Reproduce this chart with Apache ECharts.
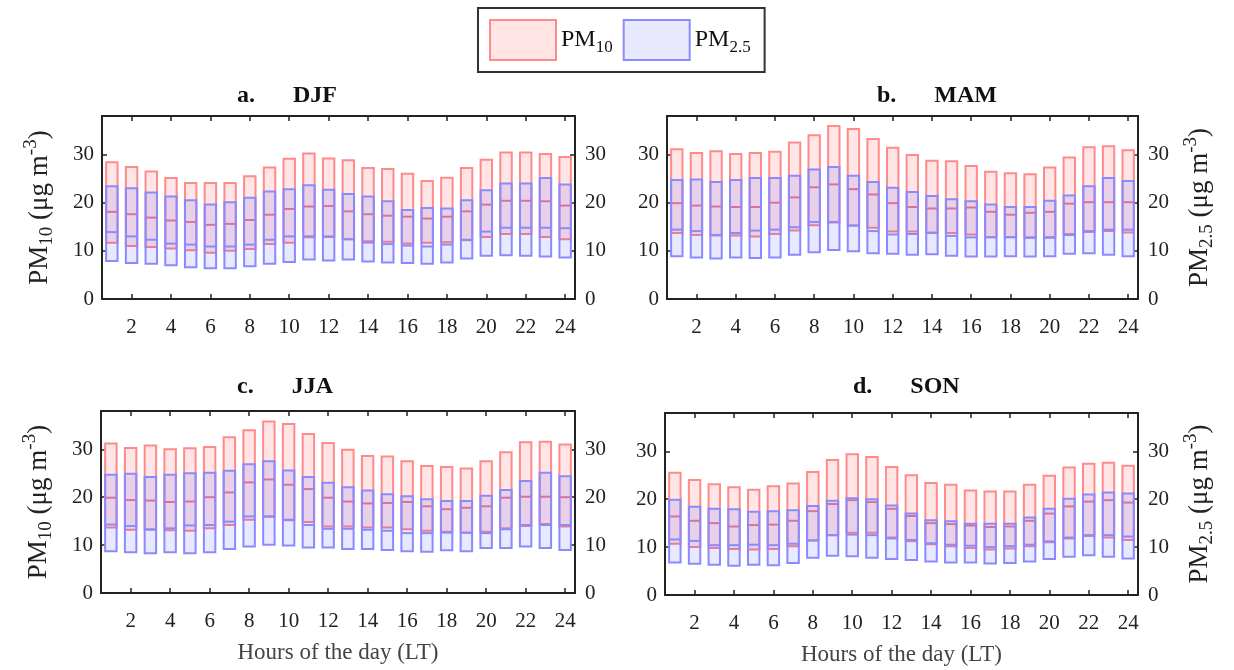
<!DOCTYPE html>
<html><head><meta charset="utf-8">
<script src="https://cdn.jsdelivr.net/npm/echarts@6/dist/echarts.min.js"></script>
<style>html,body{margin:0;padding:0;background:#fff}#c{width:1234px;height:670px}</style>
</head><body><div id="c"></div>
<script>
const hours = ['1','2','3','4','5','6','7','8','9','10','11','12','13','14','15','16','17','18','19','20','21','22','23','24'];
const yTicks = [0, 10, 20, 30];

// DJF
const djfPm10Q75 = [28.4,27.4,26.5,25.1,24.1,24.1,24.1,25.5,27.3,29.1,30.2,29.2,28.8,27.2,27.0,26.0,24.5,25.2,27.2,28.9,30.4,30.4,30.1,29.5];
const djfPm10Med = [18.1,17.6,16.9,16.3,16.0,15.4,15.6,16.4,17.5,18.7,19.2,19.3,18.2,17.6,17.3,17.1,16.7,17.1,18.2,19.6,20.4,20.4,20.3,19.4];
const djfPm10Q25 = [11.7,11.0,10.8,10.5,10.1,9.6,10.0,10.4,11.4,11.7,12.8,12.9,12.4,12.0,11.9,11.5,11.7,11.8,12.2,12.9,13.5,13.5,12.9,12.4];
const djfPm25Q75 = [23.4,23.0,22.1,21.3,20.5,19.6,20.1,21.0,22.3,22.8,23.6,22.7,21.8,21.3,20.3,18.5,18.9,18.8,20.5,22.6,24.0,24.0,25.1,23.8];
const djfPm25Med = [13.9,13.0,12.3,11.5,11.3,10.9,10.9,11.3,12.3,13.0,13.0,13.0,12.4,11.7,11.4,11.1,10.9,11.3,12.3,14.0,14.8,14.8,14.8,14.7];
const djfPm25Q25 = [7.9,7.5,7.3,7.0,6.6,6.4,6.4,6.8,7.3,7.7,8.2,8.0,8.2,7.8,7.6,7.5,7.3,7.6,8.4,9.0,9.1,9.0,8.8,8.6];

// MAM
const mamPm10Q75 = [31.1,30.3,30.7,30.1,30.3,30.6,32.5,34.0,35.9,35.3,33.2,31.4,29.9,28.7,28.6,27.6,26.4,26.1,25.9,27.3,29.4,31.5,31.7,30.9];
const mamPm10Med = [19.9,19.4,19.2,19.1,19.1,20.0,21.1,23.2,23.8,22.8,21.7,19.9,19.1,18.8,18.8,19.0,18.1,17.5,17.9,18.1,19.8,20.1,20.1,20.1];
const mamPm10Q25 = [13.7,13.3,13.2,13.2,13.0,13.5,14.2,15.3,15.9,15.2,14.8,14.0,14.0,13.7,13.7,13.4,12.9,12.9,12.8,12.9,13.5,13.9,14.1,13.8];
const mamPm25Q75 = [24.7,24.8,24.3,24.7,25.1,25.1,25.6,26.9,27.4,25.6,24.3,23.1,22.2,21.4,20.7,20.3,19.6,19.1,19.1,20.4,21.5,23.4,25.1,24.5];
const mamPm25Med = [14.4,14.1,13.3,13.7,14.2,14.4,14.9,16.0,16.0,15.3,14.1,13.4,13.5,13.8,13.1,12.8,12.8,12.8,12.7,12.7,13.3,14.1,14.4,14.4];
const mamPm25Q25 = [8.9,8.6,8.4,8.6,8.5,8.6,9.2,9.7,10.2,9.9,9.5,9.4,9.2,9.3,9.0,8.8,8.8,8.9,8.8,8.9,9.4,9.5,9.2,8.9];

// JJA
const jjaPm10Q75 = [31.2,30.3,30.8,30.0,30.2,30.5,32.5,34.0,35.8,35.3,33.2,31.3,29.9,28.6,28.5,27.5,26.5,26.3,26.0,27.5,29.4,31.5,31.6,31.0];
const jjaPm10Med = [19.9,19.4,19.3,19.0,19.1,20.0,21.0,23.1,23.7,22.6,21.7,19.9,19.1,18.7,18.8,19.0,18.1,17.5,17.8,18.1,19.9,20.1,20.1,20.0];
const jjaPm10Q25 = [13.7,13.2,13.2,13.1,13.0,13.5,14.2,15.3,15.9,15.2,14.8,13.9,13.9,13.7,13.7,13.3,13.0,12.8,12.6,12.8,13.5,14.0,14.4,13.9];
const jjaPm25Q75 = [24.7,24.9,24.2,24.7,25.0,25.1,25.5,26.9,27.5,25.6,24.2,23.0,22.1,21.4,20.6,20.2,19.6,19.2,19.2,20.3,21.5,23.4,25.1,24.4];
const jjaPm25Med = [14.3,14.0,13.3,13.5,14.1,14.2,14.9,16.0,16.0,15.3,14.2,13.4,13.4,13.2,13.0,12.5,12.5,12.6,12.6,12.5,13.3,14.2,14.2,14.2];
const jjaPm25Q25 = [8.7,8.5,8.3,8.5,8.3,8.5,9.2,9.7,10.1,9.9,9.5,9.5,9.2,9.2,9.0,8.7,8.6,8.9,8.7,9.4,9.4,9.7,9.4,9.0];

// SON
const sonPm10Q75 = [25.5,24.0,23.1,22.5,22.0,22.7,23.3,25.7,28.2,29.4,28.8,26.7,25.0,23.4,23.0,21.8,21.6,21.6,23.0,24.9,26.6,27.4,27.6,27.0];
const sonPm10Med = [16.4,15.5,15.0,14.3,14.6,14.7,15.5,17.5,19.0,19.8,19.4,18.0,16.5,15.0,14.8,14.5,14.2,14.3,15.5,17.0,18.5,19.5,19.8,19.3];
const sonPm10Q25 = [10.7,10.0,9.8,9.6,9.5,9.6,10.2,11.4,12.5,13.0,13.0,12.0,11.2,10.6,10.2,9.8,9.5,9.7,10.2,11.0,11.8,12.3,12.0,11.5];
const sonPm25Q75 = [19.9,18.4,18.0,17.9,17.4,17.5,17.7,18.6,19.7,20.2,20.0,18.7,17.0,15.6,15.4,14.9,14.9,14.9,16.2,18.0,20.1,21.0,21.4,21.2];
const sonPm25Med = [11.6,11.3,10.4,10.4,10.5,10.4,10.7,11.4,12.5,12.6,12.5,11.8,11.5,10.8,10.5,10.3,10.0,10.2,10.5,11.2,12.0,12.5,12.5,12.2];
const sonPm25Q25 = [6.8,6.5,6.3,6.1,6.3,6.2,6.7,7.8,8.2,8.1,7.8,7.5,7.3,7.0,6.8,6.8,6.6,6.7,7.0,7.5,8.0,8.3,8.0,7.6];

const FONT = '"Liberation Serif","Times New Roman",serif';
const AX = '#222';

const panels = [
  {label:'a.', season:'DJF', grid:{left:102, top:116, width:473, height:183}, titleLeft:232, titleTop:79, leftName:true, rightName:false, xName:false,
   p10:[djfPm10Q25, djfPm10Med, djfPm10Q75], p25:[djfPm25Q25, djfPm25Med, djfPm25Q75]},
  {label:'b.', season:'MAM', grid:{left:667, top:116, width:471, height:183}, titleLeft:872, titleTop:79, leftName:false, rightName:true, xName:false,
   p10:[mamPm10Q25, mamPm10Med, mamPm10Q75], p25:[mamPm25Q25, mamPm25Med, mamPm25Q75]},
  {label:'c.', season:'JJA', grid:{left:101, top:411, width:474, height:182}, titleLeft:232, titleTop:370, leftName:true, rightName:false, xName:true,
   p10:[jjaPm10Q25, jjaPm10Med, jjaPm10Q75], p25:[jjaPm25Q25, jjaPm25Med, jjaPm25Q75]},
  {label:'d.', season:'SON', grid:{left:665, top:413, width:473, height:182}, titleLeft:848, titleTop:370, leftName:false, rightName:true, xName:true,
   p10:[sonPm10Q25, sonPm10Med, sonPm10Q75], p25:[sonPm25Q25, sonPm25Med, sonPm25Q75]}
];

const evenIdx = (idx) => idx % 2 === 1;
const nameRich = {
  m:{fontSize:27, fontFamily:FONT, color:AX},
  s:{fontSize:19, fontFamily:FONT, color:AX, padding:[15,0,0,0]},
  p:{fontSize:19, fontFamily:FONT, color:AX, padding:[0,0,17,0]}
};

const grid = [], xAxis = [], yAxis = [], series = [], title = [];
const styles = {
  PM10:{fill:'rgba(255,0,0,0.1)', stroke:'#ff8a8a', med:'#ee7f8c'},
  'PM2.5':{fill:'rgba(0,0,255,0.09)', stroke:'#8a8aff', med:'#8a8aff'}
};
function makeRender(st){
  return function(params, api){
    const x = api.value(0);
    const lo = api.coord([x, api.value(1)]);
    const md = api.coord([x, api.value(2)]);
    const hi = api.coord([x, api.value(3)]);
    const w = api.size([1,0])[0]*0.58;
    return {type:'group', children:[
      {type:'rect', shape:{x:lo[0]-w/2, y:hi[1], width:w, height:lo[1]-hi[1]}, style:{fill:st.fill, stroke:st.stroke, lineWidth:2}},
      {type:'line', shape:{x1:lo[0]-w/2, y1:md[1], x2:lo[0]+w/2, y2:md[1]}, style:{stroke:st.med, lineWidth:2}}
    ]};
  };
}

panels.forEach((p, i) => {
  grid.push(p.grid);
  const lineStyle = {color:AX, width:2};
  const tick = {show:true, inside:true, alignWithLabel:true, interval:evenIdx, length:5, lineStyle:{color:AX, width:1.5}};
  xAxis.push({type:'category', gridIndex:i, data:hours, position:'bottom',
    axisLine:{show:true, onZero:false, lineStyle}, axisTick:tick,
    axisLabel:{interval:evenIdx, margin:18, fontSize:21, color:AX, fontFamily:FONT},
    name:p.xName ? 'Hours of the day (LT)' : '', nameLocation:'middle', nameGap:48,
    nameTextStyle:{fontSize:23, color:'#444', fontFamily:FONT}});
  xAxis.push({type:'category', gridIndex:i, data:hours, position:'top',
    axisLine:{show:true, onZero:false, lineStyle}, axisTick:tick, axisLabel:{show:false}});
  const yBase = {type:'value', gridIndex:i, min:0, max:38, interval:10, splitLine:{show:false},
    axisLine:{show:true, onZero:false, lineStyle},
    axisTick:{show:true, inside:true, length:5, lineStyle:{color:AX, width:1.5}},
    nameLocation:'middle', nameRotate:90, nameTextStyle:{rich:nameRich}};
  yAxis.push(Object.assign({}, yBase, {position:'left',
    axisLabel:{margin:8, fontSize:21, color:AX, fontFamily:FONT, showMaxLabel:false,
      formatter:v => yTicks.includes(v) ? String(v) : ''},
    name:p.leftName ? '{m|PM}{s|10}{m| (μg m}{p|-3}{m|)}' : '', nameGap:44}));
  yAxis.push(Object.assign({}, yBase, {position:'right',
    axisLabel:{margin:10, fontSize:21, color:AX, fontFamily:FONT, showMaxLabel:false,
      formatter:v => yTicks.includes(v) ? String(v) : ''},
    name:p.rightName ? '{m|PM}{s|2.5}{m| (μg m}{p|-3}{m|)}' : '', nameGap:44}));
  [['PM10', p.p10], ['PM2.5', p.p25]].forEach(([nm, arr]) => {
    const st = styles[nm];
    series.push({type:'custom', name:nm, xAxisIndex:2*i, yAxisIndex:2*i,
      itemStyle:{color:st.fill, borderColor:st.stroke, borderWidth:2},
      encode:{x:0, y:[1,2,3]},
      data:hours.map((h,k) => [k, arr[0][k], arr[1][k], arr[2][k]]),
      renderItem:makeRender(st), silent:true});
  });
  title.push({text:'{l|' + p.label + '}{g| }{r|' + p.season + '}', left:p.titleLeft, top:p.titleTop,
    textStyle:{rich:{
      l:{fontSize:24, fontWeight:'bold', fontFamily:FONT, color:'#111'},
      g:{width:38},
      r:{fontSize:24, fontWeight:'bold', fontFamily:FONT, color:'#111'}}}});
});

const chart = echarts.init(document.getElementById('c'));
chart.setOption({
  animation:false,
  title,
  grid, xAxis, yAxis, series,
  legend:{
    left:478, top:8, orient:'horizontal', selectedMode:false,
    padding:[11,14,11,11], borderWidth:2, borderColor:'#333',
    itemWidth:66, itemHeight:40, itemGap:10,
    data:[
      {name:'PM10', icon:'rect', itemStyle:{color:'rgba(255,0,0,0.1)', borderColor:'#ff8a8a', borderWidth:2}},
      {name:'PM2.5', icon:'rect', itemStyle:{color:'rgba(0,0,255,0.09)', borderColor:'#8a8aff', borderWidth:2}}
    ],
    formatter:n => n === 'PM10' ? '{m|PM}{s|10}' : '{m|PM}{s|2.5}',
    textStyle:{rich:{
      m:{fontSize:24, fontFamily:FONT, color:'#111'},
      s:{fontSize:17, fontFamily:FONT, color:'#111', padding:[16,0,0,0]}
    }}
  }
});
</script></body></html>
